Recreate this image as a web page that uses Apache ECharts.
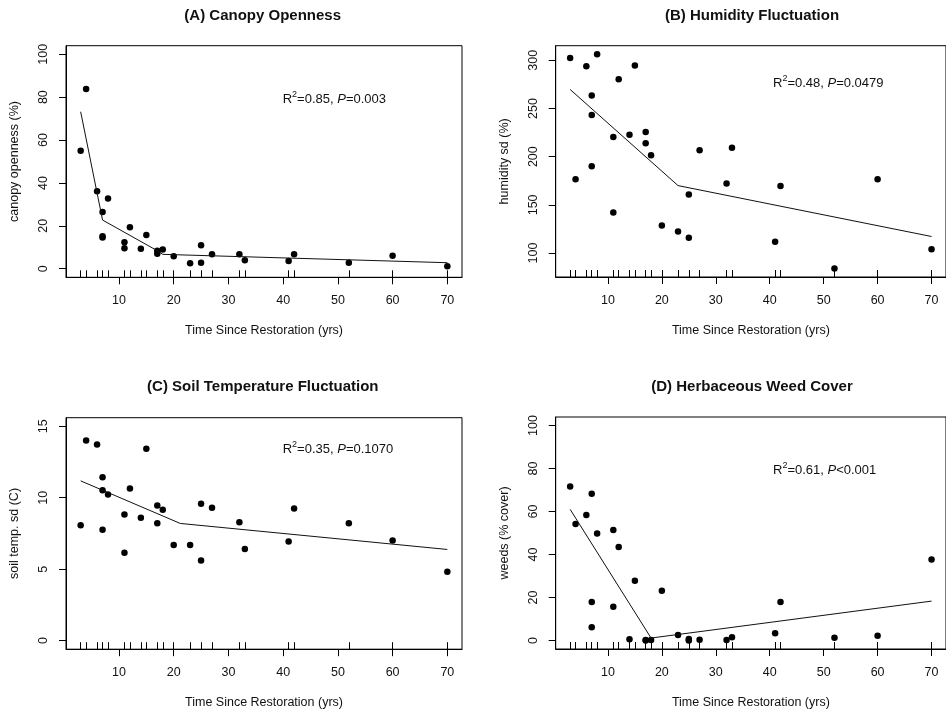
<!DOCTYPE html>
<html><head><meta charset="utf-8">
<script src="https://cdn.jsdelivr.net/npm/echarts@6/dist/echarts.min.js"></script>
<style>html,body{margin:0;padding:0;background:#fff}#c{width:946px;height:713px}</style>
</head><body><div id="c"></div>
<script>
// ---- data ----
const years = [3,4,6,7,7,7,8,11,11,12,14,15,17,17,18,20,23,25,25,27,32,33,41,42,52,60,70];
const canopy = [55,83.8,36.1,26.4,15.2,14.6,32.8,12.4,9.6,19.3,9.3,15.7,8.4,7.0,9.0,5.8,2.5,11.0,2.8,6.7,6.7,3.9,3.6,6.7,2.8,6.1,1.1];
const humidity = [302.4,176.6,293.8,263.4,243.1,190,306.2,220.3,142,280.3,222.8,294.5,225.5,213.8,201.4,128.6,122.4,160.7,115.9,206.6,172.1,209.3,111.7,169.7,84.1,176.6,104.1];
const soilTemp = [8.08,14.0,13.72,11.44,10.53,7.76,10.23,8.83,6.15,10.65,8.6,13.42,9.46,8.22,9.15,6.69,6.69,9.57,5.61,9.29,8.29,6.41,6.94,9.25,8.22,7.01,4.82];
const weeds = [71.6,54.2,58.4,68.3,17.9,6.1,49.8,51.4,15.7,43.5,0.5,27.8,0.2,0.0,0.2,23.1,2.5,0.6,0.0,0.3,0.2,1.5,3.3,17.9,1.2,2.2,37.7];

const fitYearsA = [3,7,17,18,70];     const fitA = [73.2,22.7,8.4,6.7,2.8];
const fitYearsB = [3,23,70];          const fitB = [269.7,170,117.2];
const fitYearsC = [3,21.2,70];        const fitC = [11.18,8.2,6.38];
const fitYearsD = [3,18,70];          const fitD = [61,1.1,18.3];

const rugYears = [3,4,6,7,8,11,12,14,15,17,18,20,23,25,27,32,33,41,42,52,60,70];
const xTicks = [10,20,30,40,50,60,70];
const yTicksA = [0,20,40,60,80,100];
const yTicksB = [100,150,200,250,300];
const yTicksC = [0,5,10,15];
const yTicksD = [0,20,40,60,80,100];

const titles = ['(A) Canopy Openness','(B) Humidity Fluctuation','(C) Soil Temperature Fluctuation','(D) Herbaceous Weed Cover'];
const yNames = ['canopy openness (%)','humidity sd (%)','soil temp. sd (C)','weeds (% cover)'];
const xName = 'Time Since Restoration (yrs)';
const stats = [['0.85','=0.003'],['0.48','=0.0479'],['0.35','=0.1070'],['0.61','<0.001']];

// ---- layout ----
const FONT = "'Liberation Sans', Arial, sans-serif";
const TXT = '#111';
const grids = [
  {left:66, top:45.7, width:396, height:231.6},
  {left:555.7, top:45.7, width:396, height:231.3},
  {left:66, top:417.7, width:396, height:231.5},
  {left:555.7, top:417.0, width:396, height:232}
];
const yRanges = [[-4,104],[75.2,315.1],[-0.6,15.6],[-4,104]];
const yTicks = [yTicksA,yTicksB,yTicksC,yTicksD];
const series = [
  [years, canopy, fitYearsA, fitA],
  [years, humidity, fitYearsB, fitB],
  [years, soilTemp, fitYearsC, fitC],
  [years, weeds, fitYearsD, fitD]
];
const titlePos = [[262.7,16],[752,16],[262.8,387],[752,387]];
const statPos = [[282.7,99],[773,83],[282.7,449],[773,470]];

const option = {
  animation:false,
  backgroundColor:'#fff',
  grid: grids.map(g => Object.assign({show:true, borderColor:'#000', borderWidth:1, backgroundColor:'transparent', containLabel:false}, g)),
  xAxis: [], yAxis: [], series: [], graphic: []
};

grids.forEach((g,i) => {
  option.xAxis.push({
    gridIndex:i, type:'value', min:0.32, max:72.68, position:'bottom',
    axisLine:{show:true, onZero:false, lineStyle:{color:'#000', width:1}},
    axisTick:{show:true, inside:false, length:7, customValues:xTicks, lineStyle:{color:'#000'}},
    axisLabel:{customValues:xTicks, margin:17, color:TXT, fontSize:12.5, fontFamily:FONT},
    splitLine:{show:false},
    name:xName, nameLocation:'middle', nameGap:47,
    nameTextStyle:{color:TXT, fontSize:12.5, fontFamily:FONT}
  });
  option.xAxis.push({
    gridIndex:i, type:'value', min:0.32, max:72.68, position:'bottom',
    axisLine:{show:false, onZero:false},
    axisTick:{show:true, inside:true, length:7, customValues:rugYears, lineStyle:{color:'#000'}},
    axisLabel:{show:false}, splitLine:{show:false}
  });
  option.yAxis.push({
    gridIndex:i, type:'value', min:yRanges[i][0], max:yRanges[i][1], position:'left',
    axisLine:{show:true, onZero:false, lineStyle:{color:'#000', width:1}},
    axisTick:{show:true, inside:false, length:7, customValues:yTicks[i], lineStyle:{color:'#000'}},
    axisLabel:{customValues:yTicks[i], rotate:90, margin:16, color:TXT, fontSize:12.5, fontFamily:FONT},
    splitLine:{show:false},
    name:yNames[i], nameLocation:'middle', nameGap:45,
    nameTextStyle:{color:TXT, fontSize:12.5, fontFamily:FONT}
  });
  const [xs, ys, fx, fy] = series[i];
  option.series.push({
    type:'scatter', xAxisIndex:2*i, yAxisIndex:i,
    data: xs.map((x,k)=>[x, ys[k]]),
    symbol:'circle', symbolSize:6.5, itemStyle:{color:'#000', opacity:1}, silent:true
  });
  option.series.push({
    type:'line', xAxisIndex:2*i, yAxisIndex:i,
    data: fx.map((x,k)=>[x, fy[k]]),
    showSymbol:false, lineStyle:{color:'#111', width:1}, silent:true
  });
  option.graphic.push({
    type:'text', x:titlePos[i][0], y:titlePos[i][1],
    style:{text:titles[i], fill:TXT, font:"bold 15px 'Liberation Sans', Arial, sans-serif", align:'center', verticalAlign:'middle'}
  });
  option.graphic.push({
    type:'text', x:statPos[i][0], y:statPos[i][1],
    style:{
      text:'{a|R}{s|2}{a|=' + stats[i][0] + ', }{it|P}{a|' + stats[i][1] + '}',
      align:'left', verticalAlign:'middle',
      rich:{
        a:{fontSize:13, fontFamily:FONT, fill:TXT, color:TXT, lineHeight:17},
        s:{fontSize:9, fontFamily:FONT, fill:TXT, color:TXT, lineHeight:9, verticalAlign:'top'},
        it:{fontSize:13, fontFamily:FONT, fontStyle:'italic', fill:TXT, color:TXT, lineHeight:17}
      }
    }
  });
});

const chart = echarts.init(document.getElementById('c'), null, {renderer:'canvas'});
chart.setOption(option);
</script>
</body></html>
